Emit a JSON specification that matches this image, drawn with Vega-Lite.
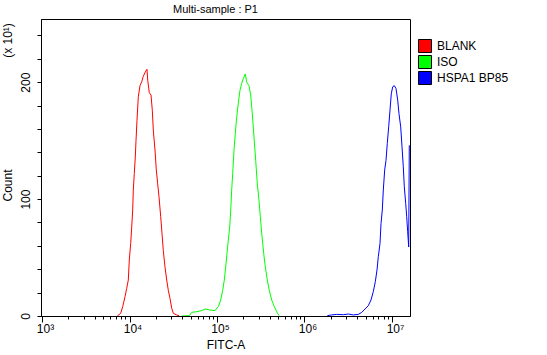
{
  "$schema": "https://vega.github.io/schema/vega-lite/v6.json",
  "width": 369,
  "height": 297,
  "autosize": {"type": "none"},
  "padding": {"left": 41, "top": 19, "right": 137, "bottom": 39},
  "background": "white",
  "title": {"text": "Multi-sample : P1", "fontSize": 11, "fontWeight": "normal", "offset": 4, "dx": -10, "color": "black", "font": "Liberation Sans"},
  "config": {
    "font": "Liberation Sans",
    "view": {"stroke": "black", "strokeWidth": 1},
    "axis": {"labelColor": "black", "titleColor": "black", "tickColor": "black", "domainColor": "black", "labelFontSize": 12, "titleFontSize": 12, "titleFontWeight": "normal", "grid": false, "labelFont": "Liberation Sans", "titleFont": "Liberation Sans"},
    "legend": {"labelFont": "Liberation Sans", "labelFontSize": 12, "labelColor": "black"}
  },
  "datasets": {
    "hist": [
      {"s": "BLANK", "x": 7255, "y": 0}, {"s": "BLANK", "x": 7933, "y": 2.3}, {"s": "BLANK", "x": 8363, "y": 8}, {"s": "BLANK", "x": 8884, "y": 16.5}, {"s": "BLANK", "x": 9290, "y": 23.6}, {"s": "BLANK", "x": 9690, "y": 30.8}, {"s": "BLANK", "x": 9948, "y": 47.9}, {"s": "BLANK", "x": 10321, "y": 62}, {"s": "BLANK", "x": 10596, "y": 76}, {"s": "BLANK", "x": 10879, "y": 90.6}, {"s": "BLANK", "x": 11051, "y": 107.7}, {"s": "BLANK", "x": 11347, "y": 122}, {"s": "BLANK", "x": 11649, "y": 136}, {"s": "BLANK", "x": 11866, "y": 150}, {"s": "BLANK", "x": 12182, "y": 167.5}, {"s": "BLANK", "x": 12605, "y": 187.4}, {"s": "BLANK", "x": 13183, "y": 197}, {"s": "BLANK", "x": 13785, "y": 200.3}, {"s": "BLANK", "x": 14378, "y": 205}, {"s": "BLANK", "x": 15313, "y": 209.4}, {"s": "BLANK", "x": 15849, "y": 211}, {"s": "BLANK", "x": 16144, "y": 201.7}, {"s": "BLANK", "x": 16838, "y": 191}, {"s": "BLANK", "x": 17608, "y": 189}, {"s": "BLANK", "x": 18222, "y": 176}, {"s": "BLANK", "x": 18707, "y": 159}, {"s": "BLANK", "x": 19561, "y": 142}, {"s": "BLANK", "x": 20244, "y": 125}, {"s": "BLANK", "x": 21003, "y": 113}, {"s": "BLANK", "x": 21734, "y": 102}, {"s": "BLANK", "x": 22728, "y": 85}, {"s": "BLANK", "x": 23517, "y": 70.7}, {"s": "BLANK", "x": 24337, "y": 56}, {"s": "BLANK", "x": 25448, "y": 42}, {"s": "BLANK", "x": 26612, "y": 30.8}, {"s": "BLANK", "x": 27763, "y": 22}, {"s": "BLANK", "x": 29036, "y": 15}, {"s": "BLANK", "x": 30366, "y": 6.6}, {"s": "BLANK", "x": 31670, "y": 2.3}, {"s": "BLANK", "x": 34627, "y": 0.9}, {"s": "BLANK", "x": 36785, "y": 0.3},
      {"s": "ISO", "x": 39520, "y": 0}, {"s": "ISO", "x": 48250, "y": 0.3}, {"s": "ISO", "x": 51390, "y": 3.1}, {"s": "ISO", "x": 58610, "y": 3.7}, {"s": "ISO", "x": 66870, "y": 4.6}, {"s": "ISO", "x": 72940, "y": 6}, {"s": "ISO", "x": 83180, "y": 5.1}, {"s": "ISO", "x": 94880, "y": 4.6}, {"s": "ISO", "x": 103490, "y": 8}, {"s": "ISO", "x": 110230, "y": 13.7}, {"s": "ISO", "x": 116200, "y": 22}, {"s": "ISO", "x": 121200, "y": 30.8}, {"s": "ISO", "x": 125760, "y": 42}, {"s": "ISO", "x": 130140, "y": 53.6}, {"s": "ISO", "x": 134660, "y": 65}, {"s": "ISO", "x": 139700, "y": 76}, {"s": "ISO", "x": 143430, "y": 90.6}, {"s": "ISO", "x": 147230, "y": 107.7}, {"s": "ISO", "x": 151170, "y": 122}, {"s": "ISO", "x": 156420, "y": 142}, {"s": "ISO", "x": 161850, "y": 156}, {"s": "ISO", "x": 167920, "y": 170}, {"s": "ISO", "x": 175150, "y": 182}, {"s": "ISO", "x": 183170, "y": 193}, {"s": "ISO", "x": 191550, "y": 199}, {"s": "ISO", "x": 199790, "y": 203}, {"s": "ISO", "x": 210600, "y": 207}, {"s": "ISO", "x": 218510, "y": 200}, {"s": "ISO", "x": 232130, "y": 197}, {"s": "ISO", "x": 242740, "y": 189}, {"s": "ISO", "x": 253190, "y": 173}, {"s": "ISO", "x": 264810, "y": 153}, {"s": "ISO", "x": 276910, "y": 133}, {"s": "ISO", "x": 288820, "y": 113}, {"s": "ISO", "x": 301990, "y": 99}, {"s": "ISO", "x": 312570, "y": 85}, {"s": "ISO", "x": 326850, "y": 68}, {"s": "ISO", "x": 341770, "y": 53.6}, {"s": "ISO", "x": 356480, "y": 42}, {"s": "ISO", "x": 375740, "y": 30.8}, {"s": "ISO", "x": 395990, "y": 22}, {"s": "ISO", "x": 421730, "y": 13.7}, {"s": "ISO", "x": 451690, "y": 8}, {"s": "ISO", "x": 481220, "y": 3.7}, {"s": "ISO", "x": 511040, "y": 0.3},
      {"s": "HSPA1 BP85", "x": 1822400, "y": 0.3}, {"s": "HSPA1 BP85", "x": 2046000, "y": 0.9}, {"s": "HSPA1 BP85", "x": 2333000, "y": 1.4}, {"s": "HSPA1 BP85", "x": 2776000, "y": 1.1}, {"s": "HSPA1 BP85", "x": 3168000, "y": 1.7}, {"s": "HSPA1 BP85", "x": 3612000, "y": 0.9}, {"s": "HSPA1 BP85", "x": 4120000, "y": 1.4}, {"s": "HSPA1 BP85", "x": 4506000, "y": 3.1}, {"s": "HSPA1 BP85", "x": 4914000, "y": 6}, {"s": "HSPA1 BP85", "x": 5358000, "y": 8.8}, {"s": "HSPA1 BP85", "x": 5754000, "y": 13.7}, {"s": "HSPA1 BP85", "x": 6114000, "y": 20.8}, {"s": "HSPA1 BP85", "x": 6444000, "y": 29.3}, {"s": "HSPA1 BP85", "x": 6739000, "y": 39.3}, {"s": "HSPA1 BP85", "x": 6973000, "y": 50.7}, {"s": "HSPA1 BP85", "x": 7293000, "y": 62}, {"s": "HSPA1 BP85", "x": 7487000, "y": 79}, {"s": "HSPA1 BP85", "x": 7747000, "y": 90.6}, {"s": "HSPA1 BP85", "x": 7954000, "y": 107.7}, {"s": "HSPA1 BP85", "x": 8252000, "y": 125}, {"s": "HSPA1 BP85", "x": 8539000, "y": 133}, {"s": "HSPA1 BP85", "x": 8836000, "y": 147.6}, {"s": "HSPA1 BP85", "x": 9169000, "y": 161.8}, {"s": "HSPA1 BP85", "x": 9487000, "y": 176}, {"s": "HSPA1 BP85", "x": 9817000, "y": 190}, {"s": "HSPA1 BP85", "x": 10185000, "y": 196}, {"s": "HSPA1 BP85", "x": 10624000, "y": 197}, {"s": "HSPA1 BP85", "x": 11109000, "y": 194.6}, {"s": "HSPA1 BP85", "x": 11618000, "y": 184.6}, {"s": "HSPA1 BP85", "x": 12023000, "y": 173}, {"s": "HSPA1 BP85", "x": 12574000, "y": 161.8}, {"s": "HSPA1 BP85", "x": 13013000, "y": 144.7}, {"s": "HSPA1 BP85", "x": 13465000, "y": 127.6}, {"s": "HSPA1 BP85", "x": 13823000, "y": 110.5}, {"s": "HSPA1 BP85", "x": 14342000, "y": 96.3}, {"s": "HSPA1 BP85", "x": 14723000, "y": 85}, {"s": "HSPA1 BP85", "x": 15117000, "y": 72}, {"s": "HSPA1 BP85", "x": 15518000, "y": 59}, {"s": "HSPA1 BP85", "x": 15764000, "y": 146}
    ],
    "samples": [{"s": "BLANK"}, {"s": "ISO"}, {"s": "HSPA1 BP85"}]
  },
  "resolve": {"axis": {"x": "independent", "y": "independent"}},
  "layer": [
    {
      "data": {"name": "hist"},
      "mark": {"type": "line", "strokeWidth": 1, "clip": true},
      "encoding": {
        "x": {
          "field": "x", "type": "quantitative",
          "scale": {"type": "log", "domain": [974, 16060000], "nice": false, "zero": false},
          "axis": {
            "orient": "bottom",
            "title": "FITC-A", "titlePadding": 5,
            "values": [1000, 10000, 100000, 1000000, 10000000],
            "labelExpr": "datum.value == 1000 ? '10³' : datum.value == 10000 ? '10⁴' : datum.value == 100000 ? '10⁵' : datum.value == 1000000 ? '10⁶' : '10⁷'",
            "tickSize": 6, "labelPadding": 1, "labelOffset": 3, "labelFlush": false, "labelOverlap": false
          }
        },
        "y": {
          "field": "y", "type": "quantitative",
          "scale": {"domain": [0, 254], "nice": false, "zero": true},
          "axis": {
            "orient": "left",
            "title": "Count", "titleX": -27, "titleY": 166, "titleAngle": -90,
            "values": [0, 20, 40, 60, 80, 100, 120, 140, 160, 180, 200, 220, 240],
            "labelExpr": "datum.value % 100 === 0 ? datum.label : ''",
            "labelAngle": -90, "tickSize": 4, "labelPadding": 5, "labelOverlap": false, "labelFlush": false
          }
        },
        "stroke": {
          "field": "s", "type": "nominal",
          "scale": {"domain": ["HSPA1 BP85", "BLANK", "ISO"], "range": ["#0000ff", "#ff0000", "#00ff00"]},
          "legend": null
        }
      }
    },
    {
      "data": {"values": [{"a": 1}]},
      "mark": {"type": "point", "opacity": 0},
      "encoding": {
        "x": {
          "datum": 1000, "type": "quantitative",
          "axis": {
            "orient": "bottom", "title": null, "labels": false, "domain": false, "tickSize": 3,
            "values": [2000, 3000, 4000, 5000, 6000, 7000, 8000, 9000, 20000, 30000, 40000, 50000, 60000, 70000, 80000, 90000, 200000, 300000, 400000, 500000, 600000, 700000, 800000, 900000, 2000000, 3000000, 4000000, 5000000, 6000000, 7000000, 8000000, 9000000]
          }
        },
        "y": {
          "datum": 0, "type": "quantitative",
          "axis": {"orient": "left", "title": "(x 10¹)", "titleX": -27, "titleY": 21, "titleAngle": -90, "labels": false, "ticks": false, "domain": false}
        }
      }
    },
    {
      "data": {"name": "samples"},
      "mark": {"type": "square", "filled": true, "clip": true},
      "encoding": {
        "x": {"datum": 1000, "type": "quantitative", "axis": null},
        "y": {"datum": -100, "type": "quantitative", "axis": null},
        "fill": {
          "field": "s", "type": "nominal",
          "scale": {"domain": ["BLANK", "ISO", "HSPA1 BP85"], "range": ["#ff0000", "#00ff00", "#0000ff"]},
          "legend": {
            "title": null, "orient": "none", "legendX": 377, "legendY": 20,
            "symbolType": "square", "symbolSize": 169, "symbolStrokeColor": "black", "symbolStrokeWidth": 1, "symbolOpacity": 1,
            "labelOffset": 5, "rowPadding": -2, "padding": 0
          }
        }
      }
    }
  ]
}
